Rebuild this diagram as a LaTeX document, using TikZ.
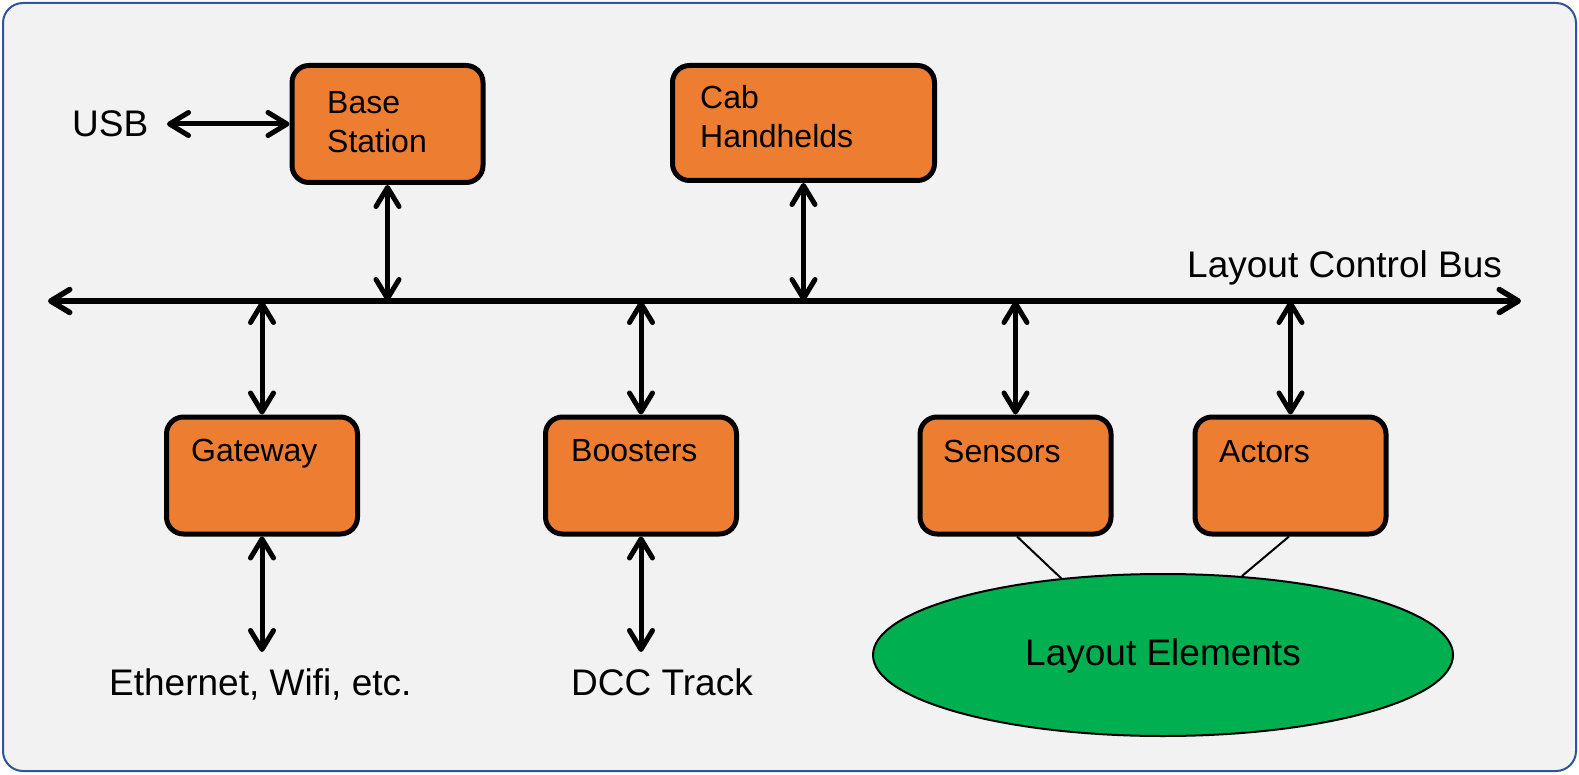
\documentclass[tikz,border=0pt]{standalone}
\usepackage{fontspec}
\setmainfont{Liberation Sans}
\usetikzlibrary{arrows.meta,shapes.geometric}
\definecolor{boxorange}{HTML}{ED7D31}
\definecolor{elgreen}{HTML}{00B050}
\definecolor{panel}{HTML}{F2F2F2}
\definecolor{frameblue}{HTML}{2F5597}
\begin{document}
\begin{tikzpicture}[x=1pt,y=-1pt,
  unitbox/.style={draw=black, line width=5pt, fill=boxorange, rounded corners=17pt,
    minimum width=191pt, minimum height=117pt, inner sep=0pt},
  bigtext/.style={font=\fontsize{37}{44}\selectfont, inner sep=0pt},
  boxtext/.style={font=\fontsize{32}{39}\selectfont, inner sep=0pt, align=left, anchor=north west},
  barb/.tip={Straight Barb[length=19pt,width=23pt,round]},
  link/.style={line width=5pt, barb-barb},
  thinlink/.style={line width=2pt},
]
\useasboundingbox (0,0) rectangle (1579,775);
\fill[white] (0,0) rectangle (1579,775);
\draw[frameblue, fill=panel, line width=2pt, rounded corners=20pt] (3,3) rectangle (1576,771);

% boxes
\node[unitbox] (base) at (387.5,124) {};
\node[unitbox, minimum width=262pt, minimum height=115pt] (cab) at (803.5,123) {};
\node[unitbox] (gw) at (262,475.5) {};
\node[unitbox] (boost) at (641,475.5) {};
\node[unitbox] (sens) at (1015.5,475.5) {};
\node[unitbox] (act) at (1290.5,475.5) {};

% box texts
\node[boxtext] (baseT) at (327,91.6) {Base\\Station};
\node[boxtext] (cabT) at (700,85.6) {Cab\\Handhelds};
\node[boxtext, anchor=base west] (gwT) at (191,461) {Gateway};
\node[boxtext, anchor=base west] (boostT) at (571,461) {Boosters};
\node[boxtext, anchor=base west] (sensT) at (943,462) {Sensors};
\node[boxtext, anchor=base west] (actT) at (1219,462) {Actors};

% ellipse
\node[ellipse, draw=black, line width=2pt, fill=elgreen, minimum width=580pt, minimum height=162pt, inner sep=0pt] (elem) at (1163,655) {};
\node[bigtext, anchor=base] (elemT) at (1163,665) {Layout Elements};

% outer texts
\node[bigtext, anchor=base west] (usb) at (72,137) {USB};
\node[bigtext, anchor=base west] (bus) at (1187,278) {Layout Control Bus};
\node[bigtext, anchor=base west] (eth) at (109,695) {Ethernet, Wifi, etc.};
\node[bigtext, anchor=base west] (dcc) at (571,695) {DCC Track};

% coordinates
\coordinate (busL) at (48,301);
\coordinate (busR) at (1521,301);
\coordinate (usbTip) at (167,124);
\coordinate (lowTip) at (262,652);

% connectors
\draw[link, line width=5.5pt] (busL) -- (busR);
\draw[link] (usbTip) -- (base.west);
\draw[link] (base.south) -- (base.south |- busL);
\draw[link] (cab.south) -- (cab.south |- busL);
\draw[link] (gw.north |- busL) -- (gw.north);
\draw[link] (boost.north |- busL) -- (boost.north);
\draw[link] (sens.north |- busL) -- (sens.north);
\draw[link] (act.north |- busL) -- (act.north);
\draw[link] (gw.south) -- (gw.south |- lowTip);
\draw[link] (boost.south) -- (boost.south |- lowTip);
\draw[thinlink] ([xshift=1.5pt]sens.south) -- (elem.143);
\draw[thinlink] ([xshift=-1.5pt]act.south) -- (elem.45);
\end{tikzpicture}
\end{document}
